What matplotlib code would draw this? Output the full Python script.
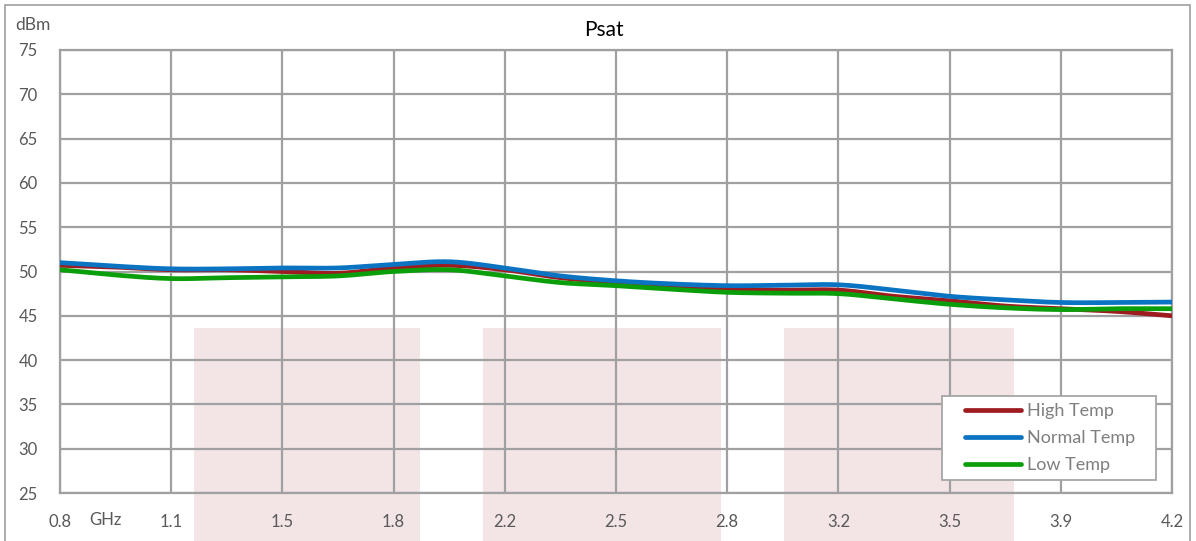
import numpy as np
import matplotlib
matplotlib.use('Agg')
import matplotlib.pyplot as plt
from matplotlib.patches import Rectangle
from matplotlib.lines import Line2D
from matplotlib.legend_handler import HandlerBase

# ---- data ----
freq = [0.80, 0.97, 1.14, 1.31, 1.48, 1.65, 1.82, 1.99, 2.16, 2.33, 2.50,
        2.67, 2.84, 3.01, 3.18, 3.35, 3.52, 3.69, 3.86, 4.03, 4.20]
high_temp = [50.7, 50.5, 50.2, 50.2, 50.0, 49.8, 50.4, 50.7, 50.2, 49.3, 48.75,
             48.3, 48.0, 47.9, 47.9, 47.2, 46.7, 46.1, 45.8, 45.5, 45.0]
normal_temp = [51.0, 50.6, 50.3, 50.3, 50.4, 50.4, 50.8, 51.1, 50.4, 49.5, 48.95,
               48.6, 48.4, 48.45, 48.5, 47.9, 47.2, 46.8, 46.5, 46.5, 46.55]
low_temp = [50.2, 49.6, 49.2, 49.3, 49.4, 49.5, 50.0, 50.2, 49.5, 48.75, 48.4,
            48.0, 47.65, 47.55, 47.5, 46.9, 46.3, 45.9, 45.7, 45.8, 45.8]
tick_values = [0.80, 1.14, 1.48, 1.82, 2.16, 2.50, 2.84, 3.18, 3.52, 3.86, 4.20]
tick_labels = ['0.8', '1.1', '1.5', '1.8', '2.2', '2.5', '2.8', '3.2', '3.5', '3.9', '4.2']
y_ticks = [25, 30, 35, 40, 45, 50, 55, 60, 65, 70, 75]
series_names = ['High Temp', 'Normal Temp', 'Low Temp']
series_colors = ['#9E1B20', '#0A74C2', '#0A9E0A']


def catmull_rom(x, y, n=24):
    x = np.asarray(x, float)
    y = np.asarray(y, float)
    px = np.concatenate([[2 * x[0] - x[1]], x, [2 * x[-1] - x[-2]]])
    py = np.concatenate([[2 * y[0] - y[1]], y, [2 * y[-1] - y[-2]]])
    xs, ys = [], []
    t = np.linspace(0, 1, n, endpoint=False)
    for i in range(1, len(px) - 2):
        for arr, out in ((px, xs), (py, ys)):
            p0, p1, p2, p3 = arr[i - 1], arr[i], arr[i + 1], arr[i + 2]
            out.append(0.5 * ((2 * p1) + (-p0 + p2) * t +
                              (2 * p0 - 5 * p1 + 4 * p2 - p3) * t ** 2 +
                              (-p0 + 3 * p1 - 3 * p2 + p3) * t ** 3))
    xs.append([x[-1]])
    ys.append([y[-1]])
    return np.concatenate(xs), np.concatenate(ys)


class OffsetLineHandler(HandlerBase):
    def __init__(self, start_frac=0.22, **kw):
        super().__init__(**kw)
        self.start_frac = start_frac

    def create_artists(self, legend, orig_handle, xdescent, ydescent,
                       width, height, fontsize, trans):
        y = height / 2 - ydescent
        line = Line2D([-xdescent + self.start_frac * width, -xdescent + width], [y, y],
                      color=orig_handle.get_color(), linewidth=orig_handle.get_linewidth(),
                      solid_capstyle='round')
        line.set_transform(trans)
        return [line]


plt.rcParams['font.family'] = ['Lato', 'DejaVu Sans']
W, H = 1196, 541
fig = plt.figure(figsize=(W / 100, H / 100), dpi=100)

# outer chart border
fig.patches.append(Rectangle((5 / W, -0.05), 1185 / W, 1 - 5 / H + 0.05,
                             transform=fig.transFigure, fill=False,
                             edgecolor='#A6A6A6', linewidth=1.3, zorder=0))

ax = fig.add_axes([60 / W, 1 - 493 / H, 1112 / W, 443 / H])
ax.set_facecolor('none')
ax.set_zorder(2)

# pale background bands (drawn in figure, behind axes)
for x0, x1 in [(194, 420), (483, 721), (784, 1014)]:
    fig.patches.append(Rectangle((x0 / W, 0), (x1 - x0) / W, 1 - 328 / H,
                                 transform=fig.transFigure, facecolor='#F3E5E6',
                                 edgecolor='none', zorder=1))

grid_c = '#A0A0A3'
for vals, name, col in zip([high_temp, normal_temp, low_temp], series_names, series_colors):
    sx, sy = catmull_rom(freq, vals)
    ax.plot(sx, sy, color=col, linewidth=3.4, solid_capstyle='butt', zorder=3)

ax.set_xlim(0.8, 4.2)
ax.set_ylim(25, 75)
ax.set_xticks(tick_values)
ax.set_xticklabels(tick_labels)
ax.set_yticks(y_ticks)
ax.grid(True, color=grid_c, linewidth=1.6, zorder=1)
ax.set_axisbelow(True)
for s in ax.spines.values():
    s.set_color(grid_c)
    s.set_linewidth(1.6)
ax.tick_params(length=0, labelsize=12, labelcolor='#595959')
ax.tick_params(axis='x', pad=15)
ax.tick_params(axis='y', pad=16)

fig.text(604 / W, 1 - 30 / H, 'Psat', fontsize=15, color='#000000', va='center', ha='center')
fig.text(15 / W, 1 - 25 / H, 'dBm', fontsize=12.5, color='#595959', va='center', ha='left')
fig.text(105 / W, 1 - 520 / H, 'GHz', fontsize=12, color='#595959', va='center', ha='center')

handles = [Line2D([0], [0], color=c, linewidth=3.4) for c in series_colors]
hmap = {h: OffsetLineHandler(0.22) for h in handles}
leg = fig.legend(handles, series_names, loc='upper left',
                 bbox_to_anchor=(942 / W, 1 - 479 / H, 214 / W, 83 / H), mode='expand',
                 frameon=True, fancybox=False, framealpha=1, handler_map=hmap,
                 fontsize=13, labelcolor='#7F7F7F', handlelength=4.0, handletextpad=0.3,
                 borderpad=0.4, labelspacing=0.6, borderaxespad=0)
leg.get_frame().set_edgecolor('#A6A6A6')
leg.get_frame().set_linewidth(1.3)
leg.set_zorder(5)

fig.savefig('out.png', dpi=100)
